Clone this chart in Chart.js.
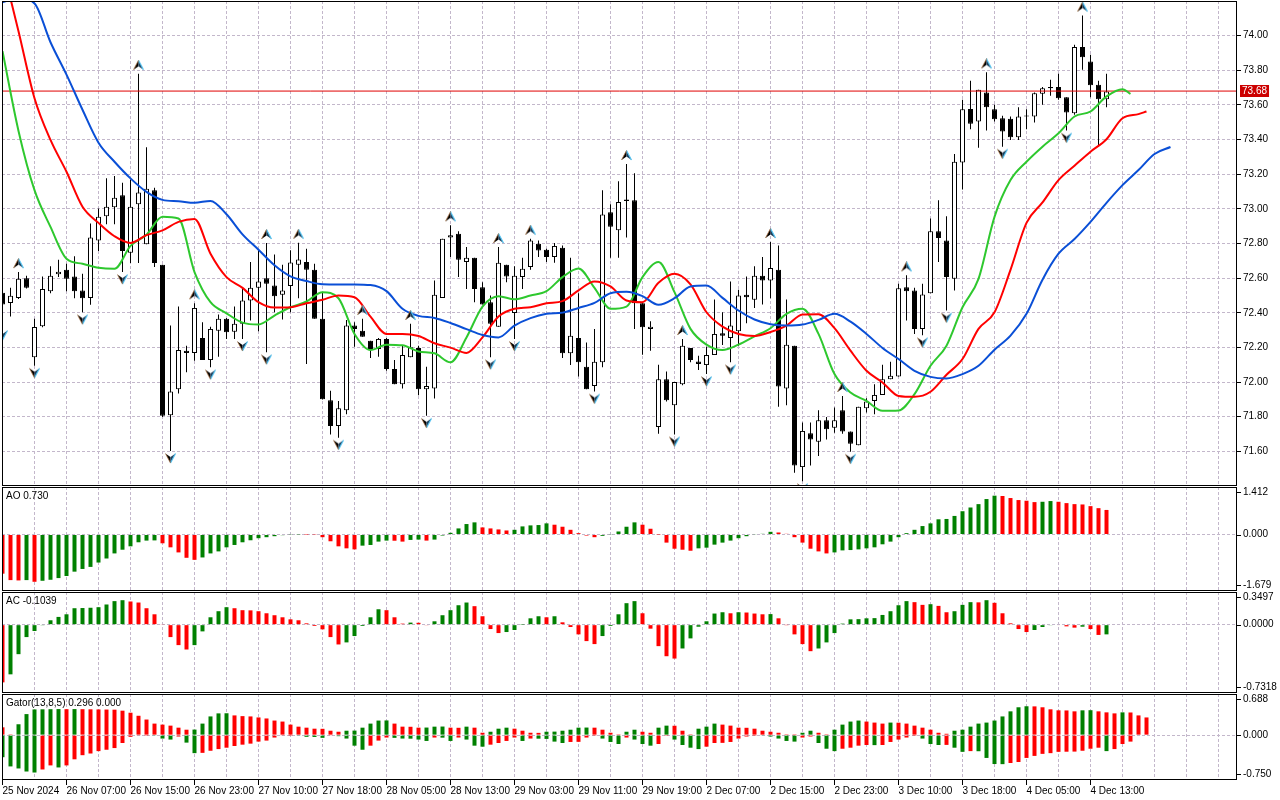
<!DOCTYPE html>
<html lang="en">
<head>
<meta charset="UTF-8">
<title>Alligator / AO / AC / Gator</title>
<script src="https://cdn.jsdelivr.net/npm/chart.js@4.4.1/dist/chart.umd.min.js"></script>
<style>
  html, body { margin: 0; padding: 0; background: #fff; }
  #wrap { position: relative; width: 1280px; height: 800px; overflow: hidden; background: #fff; }
  #wrap canvas { position: absolute; left: 0; }
</style>
</head>
<body>
<div id="wrap">
  <canvas id="mainPane" width="1280" height="487" style="top:0px"></canvas>
  <canvas id="aoPane" width="1280" height="104" style="top:487px"></canvas>
  <canvas id="acPane" width="1280" height="102" style="top:591px"></canvas>
  <canvas id="gatorPane" width="1280" height="107" style="top:693px"></canvas>
</div>
<script>
// ---- data (hourly bars) ----
const timeLabels = ['25 Nov 2024', '26 Nov 07:00', '26 Nov 15:00', '26 Nov 23:00', '27 Nov 10:00',
  '27 Nov 18:00', '28 Nov 05:00', '28 Nov 13:00', '29 Nov 03:00', '29 Nov 11:00', '29 Nov 19:00',
  '2 Dec 07:00', '2 Dec 15:00', '2 Dec 23:00', '3 Dec 10:00', '3 Dec 18:00', '4 Dec 05:00', '4 Dec 13:00'];

const open = [
  72.515, 72.457, 72.486, 72.600, 72.143, 72.322, 72.525, 72.623, 72.648, 72.610,
  72.529, 72.486, 72.818, 72.958, 73.010, 73.079, 72.747, 73.027, 72.795, 73.108,
  72.677, 71.808, 71.959, 72.181, 72.168, 72.255, 72.127, 72.297, 72.365, 72.291,
  72.336, 72.471, 72.544, 72.600, 72.558, 72.504, 72.554, 72.677, 72.693, 72.648,
  72.365, 71.895, 71.747, 71.837, 72.326, 72.297, 72.239, 72.191, 72.249, 72.075,
  71.988, 72.143, 72.197, 71.959, 71.963, 72.486, 72.834, 72.857, 72.693, 72.718,
  72.548, 72.461, 72.320, 72.677, 72.399, 72.606, 72.664, 72.799, 72.764, 72.722,
  72.776, 72.166, 72.255, 72.088, 71.978, 72.114, 72.981, 72.876, 73.054, 73.050,
  72.455, 72.307, 71.741, 72.017, 71.866, 71.988, 72.197, 72.119, 72.098, 72.156,
  72.282, 72.255, 72.293, 72.504, 72.475, 72.614, 72.587, 72.648, 71.963, 72.210,
  71.509, 71.704, 71.656, 71.779, 71.737, 71.837, 71.714, 71.635, 71.849, 71.891,
  71.926, 72.017, 72.032, 72.548, 72.529, 72.307, 72.513, 72.871, 72.818, 72.596,
  73.267, 73.577, 73.504, 73.672, 73.575, 73.523, 73.520, 73.413, 73.533, 73.533,
  73.664, 73.703, 73.703, 73.645, 73.552, 73.934, 73.851, 73.716, 73.633];
const high = [
  72.529, 72.544, 72.635, 72.614, 72.365, 72.610, 72.668, 72.706, 72.683, 72.726,
  72.625, 72.915, 73.002, 73.176, 73.189, 73.151, 73.170, 73.780, 73.355, 73.122,
  72.677, 72.326, 72.436, 72.210, 72.455, 72.345, 72.320, 72.390, 72.370, 72.436,
  72.537, 72.693, 72.764, 72.803, 72.737, 72.677, 72.761, 72.805, 72.770, 72.683,
  72.519, 71.950, 71.891, 72.359, 72.345, 72.365, 72.239, 72.255, 72.255, 72.127,
  72.210, 72.336, 72.210, 72.088, 72.587, 72.828, 72.905, 72.871, 72.780, 72.718,
  72.577, 72.500, 72.780, 72.677, 72.668, 72.718, 72.828, 72.818, 72.770, 72.803,
  72.789, 72.718, 72.513, 72.229, 72.307, 73.108, 73.027, 73.160, 73.259, 73.205,
  72.455, 72.351, 72.100, 72.061, 72.001, 72.249, 72.197, 72.152, 72.204, 72.477,
  72.403, 72.581, 72.533, 72.610, 72.668, 72.722, 72.809, 72.789, 72.477, 72.210,
  71.766, 71.766, 71.837, 71.799, 71.853, 71.920, 71.714, 71.857, 71.907, 71.988,
  72.100, 72.117, 72.567, 72.616, 72.544, 72.567, 72.944, 73.050, 72.958, 73.317,
  73.630, 73.740, 73.688, 73.788, 73.601, 73.537, 73.533, 73.587, 73.575, 73.672,
  73.703, 73.745, 73.780, 73.645, 73.948, 74.116, 73.890, 73.740, 73.780];
const low = [
  72.312, 72.378, 72.480, 72.540, 72.094, 72.316, 72.513, 72.606, 72.525, 72.484,
  72.403, 72.446, 72.757, 72.911, 72.911, 72.635, 72.687, 72.687, 72.795, 72.664,
  71.799, 71.602, 71.934, 72.056, 72.123, 72.127, 72.085, 72.146, 72.249, 72.249,
  72.249, 72.355, 72.293, 72.172, 72.403, 72.361, 72.403, 72.484, 72.104, 72.365,
  71.900, 71.698, 71.679, 71.814, 72.204, 72.262, 72.139, 72.146, 72.065, 71.988,
  71.963, 72.143, 71.924, 71.805, 71.905, 72.486, 72.722, 72.606, 72.538, 72.461,
  72.448, 72.143, 72.320, 72.577, 72.249, 72.538, 72.648, 72.722, 72.693, 72.689,
  72.139, 72.098, 72.032, 71.959, 71.945, 72.085, 72.718, 72.718, 72.834, 72.307,
  72.158, 72.181, 71.702, 71.888, 71.698, 71.982, 72.114, 72.069, 72.046, 72.156,
  72.214, 72.114, 72.210, 72.340, 72.428, 72.448, 72.484, 71.857, 71.866, 71.476,
  71.428, 71.519, 71.573, 71.669, 71.708, 71.702, 71.598, 71.635, 71.824, 71.814,
  71.926, 72.017, 72.032, 72.355, 72.278, 72.270, 72.513, 72.693, 72.413, 72.529,
  73.112, 73.460, 73.353, 73.452, 73.504, 73.359, 73.398, 73.398, 73.460, 73.498,
  73.601, 73.653, 73.630, 73.452, 73.543, 73.803, 73.645, 73.365, 73.587];
const close = [
  72.448, 72.498, 72.596, 72.544, 72.318, 72.538, 72.614, 72.637, 72.596, 72.525,
  72.484, 72.834, 72.954, 73.012, 73.064, 72.757, 73.012, 73.095, 73.116, 72.687,
  71.805, 71.946, 72.185, 72.168, 72.428, 72.127, 72.307, 72.365, 72.287, 72.336,
  72.471, 72.544, 72.581, 72.567, 72.496, 72.529, 72.691, 72.708, 72.648, 72.365,
  71.901, 71.747, 71.849, 72.326, 72.307, 72.262, 72.191, 72.249, 72.075, 71.988,
  72.156, 72.201, 71.959, 71.978, 72.504, 72.828, 72.847, 72.706, 72.718, 72.538,
  72.448, 72.336, 72.689, 72.610, 72.614, 72.654, 72.818, 72.760, 72.722, 72.786,
  72.166, 72.268, 72.114, 71.959, 72.117, 72.967, 72.896, 73.039, 73.046, 72.455,
  72.316, 72.320, 72.017, 71.895, 72.001, 72.210, 72.127, 72.104, 72.156, 72.278,
  72.268, 72.326, 72.500, 72.490, 72.614, 72.587, 72.658, 71.975, 72.216, 71.519,
  71.718, 71.669, 71.779, 71.727, 71.779, 71.714, 71.644, 71.857, 71.888, 71.926,
  72.017, 72.036, 72.542, 72.525, 72.307, 72.506, 72.871, 72.832, 72.606, 73.272,
  73.575, 73.491, 73.688, 73.587, 73.517, 73.446, 73.413, 73.533, 73.537, 73.668,
  73.697, 73.697, 73.639, 73.556, 73.934, 73.875, 73.713, 73.633, 73.678];
const currentPrice = 73.68;

// bars that carry a fractal
const fractalUpBars = [2, 17, 24, 33, 37, 45, 51, 56, 62, 66, 78, 85, 96, 105, 113, 123, 135];
const fractalDownBars = [0, 4, 10, 15, 21, 26, 30, 33, 42, 53, 61, 64, 74, 84, 88, 91, 100, 106, 115, 118, 125, 133];

// Alligator, one value every second bar (last value sits on the last shifted bar)
const jawShift = 8, teethShift = 5, lipsShift = 3;
const jaw = [
  74.193, 74.215, 74.186, 73.962, 73.775, 73.572, 73.382, 73.272, 73.176, 73.098,
  73.052, 73.044, 73.035, 73.046, 72.969, 72.853, 72.764, 72.674, 72.610, 72.583,
  72.565, 72.564, 72.564, 72.560, 72.525, 72.423, 72.382, 72.370, 72.341, 72.306,
  72.272, 72.258, 72.326, 72.369, 72.394, 72.401, 72.428, 72.457, 72.513, 72.521,
  72.496, 72.446, 72.484, 72.552, 72.558, 72.486, 72.413, 72.361, 72.334, 72.326,
  72.332, 72.359, 72.394, 72.349, 72.278, 72.197, 72.133, 72.065, 72.030, 72.021,
  72.046, 72.094, 72.187, 72.268, 72.394, 72.591, 72.741, 72.826, 72.925, 73.035,
  73.137, 73.224, 73.317, 73.357];
const teeth = [
  74.400, 74.026, 73.639, 73.398, 73.214, 73.012, 72.919, 72.842, 72.803, 72.848,
  72.876, 72.925, 72.942, 72.741, 72.606, 72.544, 72.461, 72.430, 72.432, 72.455,
  72.475, 72.500, 72.490, 72.378, 72.278, 72.278, 72.266, 72.224, 72.199, 72.168,
  72.258, 72.378, 72.423, 72.432, 72.455, 72.467, 72.529, 72.581, 72.552, 72.471,
  72.461, 72.573, 72.625, 72.564, 72.403, 72.320, 72.278, 72.266, 72.289, 72.326,
  72.390, 72.392, 72.311, 72.181, 72.065, 71.998, 71.920, 71.915, 71.944, 72.042,
  72.133, 72.307, 72.403, 72.648, 72.919, 73.037, 73.166, 73.249, 73.330, 73.402,
  73.523, 73.547, 73.562];
const lips = [
  73.910, 73.450, 73.108, 72.896, 72.712, 72.683, 72.660, 72.654, 72.786, 72.851,
  72.954, 72.944, 72.635, 72.461, 72.397, 72.343, 72.332, 72.384, 72.432, 72.465,
  72.519, 72.484, 72.278, 72.185, 72.216, 72.212, 72.177, 72.166, 72.114, 72.258,
  72.436, 72.496, 72.478, 72.500, 72.525, 72.606, 72.656, 72.544, 72.423, 72.436,
  72.606, 72.693, 72.519, 72.307, 72.216, 72.185, 72.216, 72.264, 72.311, 72.394,
  72.423, 72.278, 72.046, 71.940, 71.891, 71.834, 71.836, 71.930, 72.094, 72.210,
  72.432, 72.596, 72.954, 73.166, 73.272, 73.359, 73.436, 73.533, 73.562, 73.649,
  73.691, 73.664];

const aoValues = [
  -1.164, -1.355, -1.365, -1.355, -1.405, -1.375, -1.345, -1.295, -1.234, -1.104,
  -1.024, -0.963, -0.833, -0.713, -0.562, -0.452, -0.351, -0.231, -0.181, -0.175,
  -0.261, -0.381, -0.532, -0.692, -0.753, -0.682, -0.562, -0.502, -0.381, -0.311,
  -0.231, -0.171, -0.110, -0.080, -0.050, -0.020, -0.008, 0.006, 0.002, -0.005,
  -0.080, -0.201, -0.351, -0.411, -0.442, -0.331, -0.311, -0.211, -0.181, -0.185,
  -0.211, -0.161, -0.151, -0.181, -0.151, -0.030, 0.050, 0.181, 0.311, 0.361,
  0.211, 0.181, 0.151, 0.120, 0.140, 0.241, 0.271, 0.281, 0.331, 0.291,
  0.231, 0.140, 0.040, -0.030, -0.080, -0.040, 0.010, 0.090, 0.231, 0.361,
  0.291, 0.171, 0.002, -0.241, -0.422, -0.452, -0.482, -0.411, -0.391, -0.301,
  -0.241, -0.181, -0.110, -0.050, -0.010, 0.020, 0.080, 0.060, 0.020, -0.080,
  -0.241, -0.422, -0.502, -0.562, -0.532, -0.472, -0.462, -0.442, -0.411, -0.381,
  -0.291, -0.211, -0.080, 0.040, 0.140, 0.251, 0.331, 0.452, 0.462, 0.552,
  0.692, 0.803, 0.903, 1.054, 1.154, 1.144, 1.084, 1.024, 1.004, 0.963,
  0.973, 0.994, 0.973, 0.933, 0.903, 0.893, 0.843, 0.783, 0.730];
const acValues = [
  -0.618, -0.532, -0.316, -0.133, -0.068, -0.003, 0.047, 0.083, 0.111, 0.176,
  0.178, 0.181, 0.187, 0.216, 0.252, 0.262, 0.248, 0.237, 0.176, 0.111,
  0.004, -0.133, -0.219, -0.266, -0.219, -0.072, 0.079, 0.144, 0.187, 0.176,
  0.155, 0.153, 0.144, 0.122, 0.101, 0.079, 0.057, 0.047, 0.014, -0.014,
  -0.050, -0.133, -0.212, -0.190, -0.122, -0.014, 0.079, 0.165, 0.155, 0.079,
  0.011, 0.022, 0.020, -0.004, 0.036, 0.101, 0.155, 0.208, 0.237, 0.198,
  0.090, -0.047, -0.090, -0.079, -0.057, 0.001, 0.068, 0.090, 0.079, 0.090,
  0.025, -0.025, -0.104, -0.176, -0.208, -0.122, -0.014, 0.111, 0.230, 0.252,
  0.122, -0.043, -0.230, -0.338, -0.363, -0.255, -0.147, -0.022, 0.036, 0.119,
  0.133, 0.122, 0.133, 0.130, 0.119, 0.111, 0.113, 0.068, -0.002, -0.104,
  -0.208, -0.284, -0.255, -0.190, -0.090, 0.011, 0.057, 0.059, 0.068, 0.070,
  0.104, 0.144, 0.208, 0.252, 0.241, 0.212, 0.219, 0.201, 0.133, 0.144,
  0.212, 0.241, 0.239, 0.262, 0.234, 0.122, 0.014, -0.047, -0.079, -0.057,
  -0.025, -0.004, -0.005, -0.018, -0.032, -0.022, -0.047, -0.110, -0.1039];
const gatorUpper = [
  0.131, 0.003, 0.182, 0.352, 0.430, 0.432, 0.434, 0.436, 0.434, 0.436,
  0.434, 0.432, 0.430, 0.428, 0.426, 0.409, 0.375, 0.324, 0.261, 0.193,
  0.176, 0.159, 0.125, 0.091, 0.093, 0.193, 0.313, 0.364, 0.366, 0.330,
  0.318, 0.313, 0.296, 0.279, 0.244, 0.227, 0.176, 0.142, 0.125, 0.108,
  0.106, 0.074, 0.057, 0.074, 0.076, 0.125, 0.193, 0.244, 0.246, 0.193,
  0.142, 0.140, 0.125, 0.127, 0.142, 0.144, 0.125, 0.123, 0.142, 0.125,
  0.040, 0.057, 0.108, 0.125, 0.108, 0.074, 0.040, 0.038, 0.057, 0.059,
  0.074, 0.091, 0.125, 0.127, 0.125, 0.091, 0.040, 0.002, 0.057, 0.091,
  0.057, 0.040, 0.125, 0.159, 0.157, 0.074, 0.002, 0.108, 0.142, 0.193,
  0.176, 0.159, 0.125, 0.123, 0.108, 0.074, 0.057, 0.040, 0.002, 0.001,
  0.040, 0.074, 0.040, 0.002, 0.091, 0.176, 0.227, 0.244, 0.227, 0.210,
  0.193, 0.210, 0.208, 0.193, 0.159, 0.125, 0.091, 0.040, 0.023, 0.074,
  0.091, 0.142, 0.193, 0.210, 0.244, 0.313, 0.398, 0.466, 0.483, 0.481,
  0.466, 0.432, 0.415, 0.413, 0.398, 0.415, 0.417, 0.398, 0.381, 0.364,
  0.381, 0.379, 0.330, 0.296];
const gatorLower = [
  -0.369, -0.523, -0.557, -0.608, -0.625, -0.574, -0.506, -0.540, -0.506, -0.404,
  -0.335, -0.307, -0.267, -0.244, -0.216, -0.131, -0.028, -0.006, -0.003, -0.011,
  -0.057, -0.074, -0.023, -0.125, -0.301, -0.296, -0.261, -0.233, -0.210, -0.182,
  -0.159, -0.142, -0.108, -0.091, -0.040, -0.011, -0.002, -0.011, -0.028, -0.030,
  -0.045, -0.006, -0.017, -0.057, -0.176, -0.244, -0.176, -0.091, -0.040, -0.045,
  -0.057, -0.059, -0.074, -0.097, -0.040, -0.042, -0.097, -0.040, -0.074, -0.176,
  -0.193, -0.159, -0.131, -0.097, -0.040, -0.097, -0.057, -0.059, -0.063, -0.108,
  -0.131, -0.114, -0.112, -0.040, -0.003, -0.057, -0.114, -0.148, -0.040, -0.074,
  -0.148, -0.176, -0.148, -0.003, -0.074, -0.165, -0.210, -0.233, -0.193, -0.131,
  -0.129, -0.114, -0.057, -0.023, -0.002, -0.006, -0.023, -0.057, -0.097, -0.108,
  -0.040, -0.023, -0.131, -0.227, -0.267, -0.227, -0.210, -0.176, -0.165, -0.167,
  -0.165, -0.114, -0.074, -0.040, -0.002, -0.057, -0.148, -0.165, -0.163, -0.210,
  -0.279, -0.267, -0.269, -0.381, -0.483, -0.485, -0.466, -0.449, -0.381, -0.347,
  -0.313, -0.301, -0.279, -0.277, -0.275, -0.261, -0.227, -0.210, -0.267, -0.233,
  -0.148, -0.108];

// axis labels
const priceTicks = [71.6, 71.8, 72.0, 72.2, 72.4, 72.6, 72.8, 73.0, 73.2, 73.4, 73.6, 73.8, 74.0];
const aoScale = [1.412, 0, -1.679];
const acScale = [0.3497, 0, -0.7318];
const gatorScale = [0.688, 0, -0.750];

// ---- helpers ----
const GREEN = '#008000', RED = '#ff0000', GRID = '#c3b7cb';
const FONT = { family: '"Liberation Sans", Arial, sans-serif', size: 10 };
Chart.defaults.font.family = FONT.family;
Chart.defaults.font.size = FONT.size;
Chart.defaults.color = '#000';

const lastBar = close.length - 1;
const X_MIN = -0.0625;             // 8 px per bar, bar 0 sits on the left frame
const X_MAX = X_MIN + 1235 / 8;

function labelAt(v) {
  return (typeof v === 'number' && v % 8 === 0) ? (timeLabels[v / 8] || '') : '';
}

// MT5 colouring: green when the bar grows versus the previous one
function risingColors(values, upColor, downColor) {
  const out = [];
  values.forEach((v, i) => {
    if (i === 0) out.push(downColor);
    else if (v > values[i - 1]) out.push(upColor);
    else if (v < values[i - 1]) out.push(downColor);
    else out.push(out[i - 1]);
  });
  return out;
}

function linePoints(vals, shift) {
  return vals.map((v, i) => ({ x: Math.min(i * 2, lastBar + shift), y: v }));
}

// fractal arrow, drawn above (up) or below (down) the point it is attached to
function arrowImage(up) {
  const c = document.createElement('canvas');
  c.width = 11; c.height = 28;
  const g = c.getContext('2d');
  const p = up
    ? [[5.5, 0.5], [10.5, 10], [5.5, 6.5], [0.5, 10]]
    : [[5.5, 26], [10.5, 16.5], [5.5, 20], [0.5, 16.5]];
  g.beginPath();
  g.moveTo(p[0][0], p[0][1]); g.lineTo(p[2][0], p[2][1]); g.lineTo(p[3][0], p[3][1]);
  g.closePath();
  g.fillStyle = '#000';
  g.fill();
  g.beginPath();
  g.moveTo(p[0][0], p[0][1]); g.lineTo(p[1][0], p[1][1]); g.lineTo(p[2][0], p[2][1]);
  g.closePath();
  g.fillStyle = '#1d3f5c';
  g.fill();
  g.beginPath();
  g.moveTo(p[0][0], p[0][1]); g.lineTo(p[1][0], p[1][1]);
  g.strokeStyle = '#55c4f2';
  g.lineWidth = 1.2;
  g.stroke();
  g.beginPath();
  g.moveTo(p[0][0], p[0][1]); g.lineTo(p[3][0], p[3][1]);
  g.strokeStyle = '#a0683a';
  g.lineWidth = 0.8;
  g.stroke();
  return c;
}

// no extra room for half labels at the ends of an axis
function noScalePadding(s) {
  s.paddingTop = 0; s.paddingBottom = 0; s.paddingLeft = 0; s.paddingRight = 0;
}

function timeAxis(withLabels) {
  return {
    type: 'linear', min: X_MIN, max: X_MAX, offset: false,
    afterBuildTicks: s => {
      const t = [];
      for (let k = 0; k <= X_MAX; k += 4) t.push({ value: k });
      s.ticks = t;
    },
    afterFit: s => { s.height = withLabels ? 20 : 0; noScalePadding(s); },
    grid: {
      offset: false,
      color: c => (c.tick && c.tick.value > 0) ? GRID : 'transparent',
      drawTicks: withLabels,
      tickLength: 5,
      tickColor: c => labelAt(c.tick && c.tick.value) ? '#000' : 'transparent'
    },
    border: { display: false, dash: [3, 2] },
    ticks: {
      display: withLabels, autoSkip: false, maxRotation: 0, minRotation: 0,
      align: 'start', padding: 0, color: '#000', font: FONT,
      callback: v => labelAt(v)
    }
  };
}

function paneAxis(scaleVals) {
  return {
    position: 'right', min: Math.min(...scaleVals), max: Math.max(...scaleVals),
    afterBuildTicks: s => { s.ticks = [{ value: 0 }]; },
    afterFit: s => { s.width = 43; noScalePadding(s); },
    grid: { color: GRID, drawTicks: false },
    border: { display: false, dash: [3, 2] },
    ticks: { display: false }
  };
}

function histogram(values, colors) {
  return {
    type: 'bar',
    data: values.map((v, i) => ({ x: i, y: v })),
    backgroundColor: colors,
    barThickness: 4, grouped: false, borderWidth: 0, inflateAmount: 0
  };
}

function baseOptions(padding, scales, paneOpts) {
  return {
    responsive: false, animation: false, devicePixelRatio: 1, events: [],
    layout: { padding, autoPadding: false },
    scales,
    plugins: { legend: { display: false }, tooltip: { enabled: false }, mt5Pane: paneOpts }
  };
}

// frame, pane caption, right-hand labels of sub windows, last price tag
const mt5Pane = {
  id: 'mt5Pane',
  afterDraw(chart, args, opts) {
    const { ctx, chartArea: a } = chart;
    ctx.save();
    ctx.strokeStyle = '#000';
    ctx.lineWidth = 1;
    ctx.strokeRect(a.left + 0.5, a.top + 0.5, a.right - a.left - 1, a.bottom - a.top - 1);
    ctx.font = FONT.size + 'px ' + FONT.family;
    ctx.fillStyle = '#000';
    ctx.textBaseline = 'middle';
    ctx.textAlign = 'left';
    if (opts.header) ctx.fillText(opts.header, a.left + 4, a.top + 9.5);
    if (opts.scale) {
      const ys = chart.scales.y;
      opts.scale.forEach(v => {
        const y = Math.min(Math.max(ys.getPixelForValue(v), a.top + 5), a.bottom - 6);
        const yy = Math.round(y) + 0.5;
        ctx.beginPath();
        ctx.moveTo(a.right, yy);
        ctx.lineTo(a.right + 4, yy);
        ctx.stroke();
        ctx.fillText(v.toFixed(opts.digits), a.right + 6, y);
      });
    }
    if (opts.price != null) {
      const y = Math.round(chart.scales.y.getPixelForValue(opts.price));
      const txt = opts.price.toFixed(2);
      const w = ctx.measureText(txt).width;
      ctx.fillStyle = '#cc0000';
      ctx.fillRect(a.right + 3, y - 6, w + 4, 12);
      ctx.fillStyle = '#fff';
      ctx.fillText(txt, a.right + 5, y + 0.5);
    }
    ctx.restore();
  }
};
Chart.register(mt5Pane);

// ---- main pane: candles, Alligator, fractals ----
const barIdx = close.map((c, i) => i);
new Chart(document.getElementById('mainPane'), {
  type: 'bar',
  data: {
    datasets: [
      {
        type: 'bar', order: 4,
        data: barIdx.map(i => ({ x: i, y: [low[i], high[i]] })),
        backgroundColor: '#000', borderWidth: 0,
        barThickness: 1, grouped: false, inflateAmount: 0
      },
      {
        type: 'bar', order: 3,
        data: barIdx.map(i => ({ x: i, y: [open[i], close[i]] })),
        backgroundColor: barIdx.map(i => close[i] >= open[i] ? '#fff' : '#000'),
        borderColor: '#000', borderWidth: 1, borderSkipped: false,
        barThickness: 5, minBarLength: 1, grouped: false, inflateAmount: 0
      },
      {
        type: 'line', order: 2,
        data: [{ x: X_MIN, y: currentPrice }, { x: X_MAX, y: currentPrice }],
        borderColor: '#e00000', borderWidth: 1, pointRadius: 0
      },
      {
        type: 'line', order: 1, data: linePoints(jaw, jawShift),
        borderColor: '#0a4fd6', borderWidth: 2, pointRadius: 0, cubicInterpolationMode: 'monotone'
      },
      {
        type: 'line', order: 1, data: linePoints(teeth, teethShift),
        borderColor: '#ff0000', borderWidth: 2, pointRadius: 0, cubicInterpolationMode: 'monotone'
      },
      {
        type: 'line', order: 1, data: linePoints(lips, lipsShift),
        borderColor: '#2ec82e', borderWidth: 2, pointRadius: 0, cubicInterpolationMode: 'monotone'
      },
      {
        type: 'line', order: 0, showLine: false, clip: 0,
        data: fractalUpBars.map(k => ({ x: k, y: high[k] })),
        pointStyle: arrowImage(true), pointRadius: 5
      },
      {
        type: 'line', order: 0, showLine: false, clip: 0,
        data: fractalDownBars.map(k => ({ x: k, y: low[k] })),
        pointStyle: arrowImage(false), pointRadius: 5
      }
    ]
  },
  options: baseOptions({ left: 2, right: 0, top: 1, bottom: 1 }, {
    x: timeAxis(false),
    y: {
      position: 'right', min: 71.4, max: 74.2, beginAtZero: false,
      afterBuildTicks: s => { s.ticks = priceTicks.map(v => ({ value: v })); },
      afterFit: s => { s.width = 43; noScalePadding(s); },
      grid: { color: GRID, tickLength: 4, tickColor: '#000' },
      border: { display: false, dash: [3, 2] },
      ticks: { color: '#000', font: FONT, padding: 2, callback: v => v.toFixed(2) }
    }
  }, { price: currentPrice })
});

// ---- Awesome Oscillator ----
new Chart(document.getElementById('aoPane'), {
  type: 'bar',
  data: { datasets: [histogram(aoValues, risingColors(aoValues, GREEN, RED))] },
  options: baseOptions({ left: 2, right: 0, top: 0, bottom: 0 },
    { x: timeAxis(false), y: paneAxis(aoScale) },
    { header: 'AO ' + aoValues[lastBar].toFixed(3), scale: aoScale, digits: 3 })
});

// ---- Accelerator Oscillator ----
new Chart(document.getElementById('acPane'), {
  type: 'bar',
  data: { datasets: [histogram(acValues, risingColors(acValues, GREEN, RED))] },
  options: baseOptions({ left: 2, right: 0, top: 1, bottom: 0 },
    { x: timeAxis(false), y: paneAxis(acScale) },
    { header: 'AC ' + acValues[lastBar].toFixed(4), scale: acScale, digits: 4 })
});

// ---- Gator Oscillator ----
new Chart(document.getElementById('gatorPane'), {
  type: 'bar',
  data: {
    datasets: [
      histogram(gatorUpper, risingColors(gatorUpper, GREEN, RED)),
      histogram(gatorLower, risingColors(gatorLower, RED, GREEN))
    ]
  },
  options: baseOptions({ left: 2, right: 0, top: 1, bottom: 0 },
    { x: timeAxis(true), y: paneAxis(gatorScale) },
    { header: 'Gator(13,8,5) ' + gatorUpper[gatorUpper.length - 1].toFixed(3) + ' 0.000',
      scale: gatorScale, digits: 3 })
});
</script>
</body>
</html>
